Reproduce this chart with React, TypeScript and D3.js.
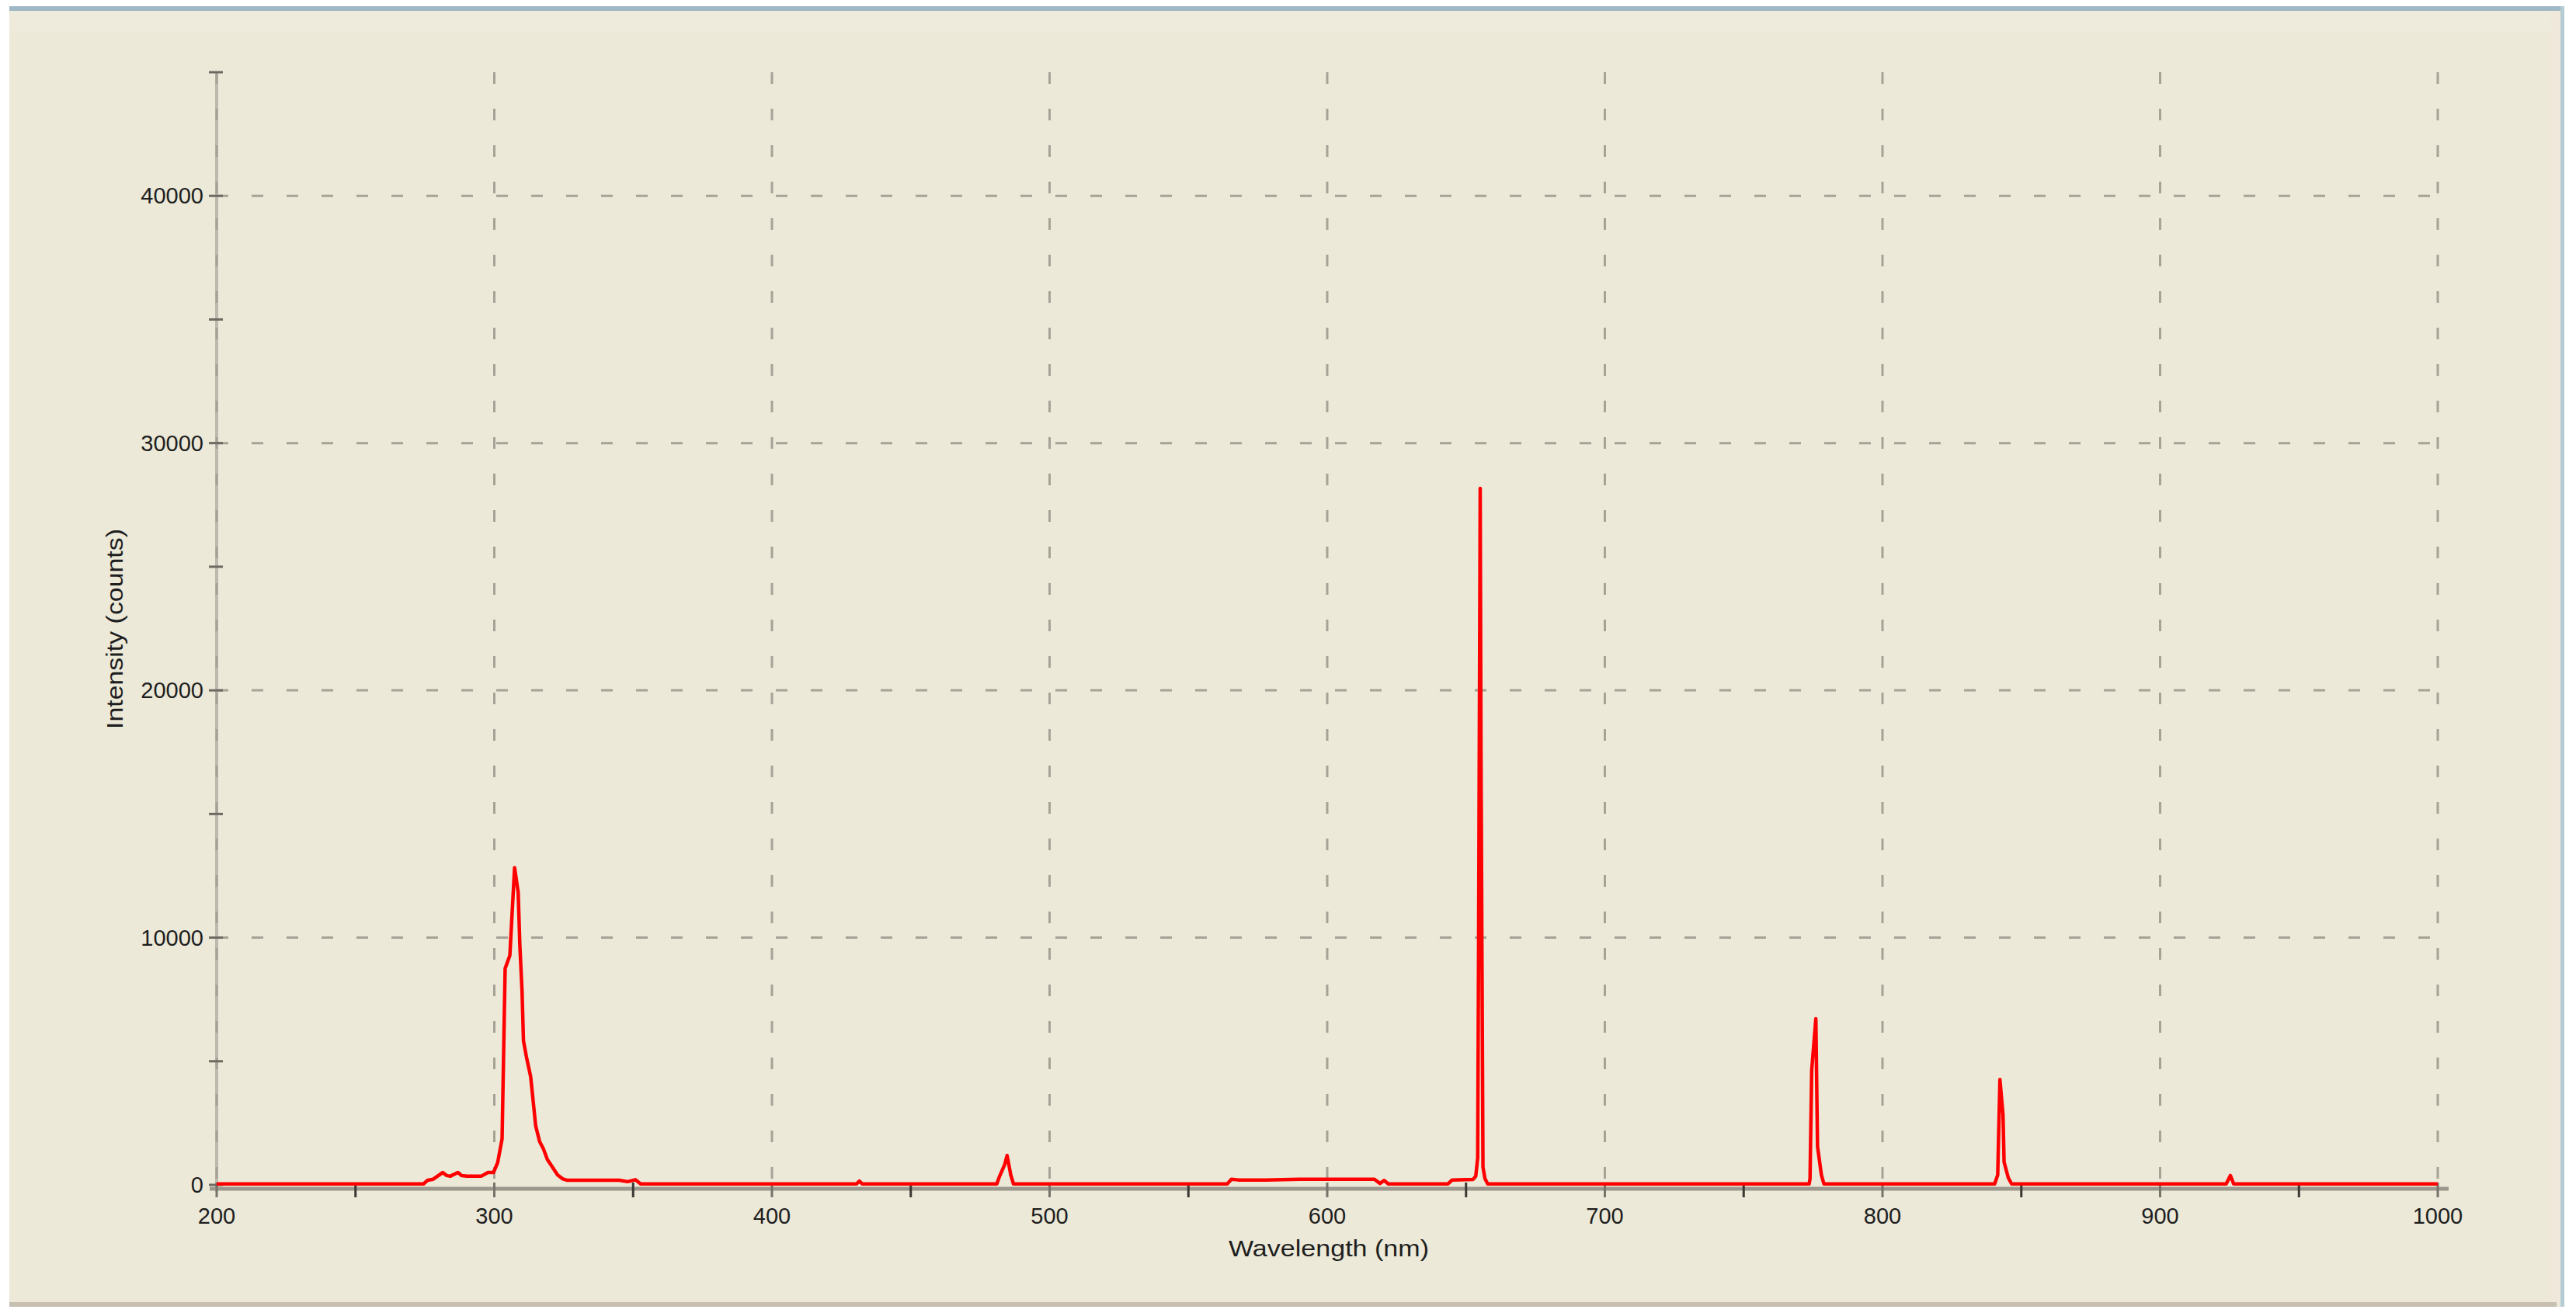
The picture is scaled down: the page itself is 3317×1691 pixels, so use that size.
import React, { useEffect, useRef } from 'react';
import * as d3 from 'd3';

// spectrum (nm, counts)
const wavelengths = [
  200, 274.5, 276, 278, 279.5, 281.4, 282.8, 284.1, 286.9, 288.2, 290.2, 295.3, 297.7, 299.7,
  301.2, 302.8, 303.9, 305.6, 307.3, 308.6, 309.2, 310.0, 310.5, 311.7, 313.1, 314.9, 316.3,
  317.7, 319.1, 321.0, 322.8, 324.7, 326.1, 345.0, 348.0, 350.8, 352.7,
  430.5, 431.5, 432.5,
  481.0, 482.0, 483.8, 484.7, 486.0, 487.0,
  564.0, 565.5, 568.0, 578.0, 590.0, 605.0, 617.0, 619.0, 620.5, 622.0,
  643.5, 645.0, 652.5, 653.5, 654.2, 654.5, 655.1, 655.4, 656.1, 656.8, 657.8,
  773.6, 773.9, 774.5, 776.0, 776.6, 778.0, 778.9,
  840.4, 841.5, 842.3, 843.4, 843.8, 845.3, 846.5,
  923.8, 925.3, 926.5, 1000,
];
const counts = [
  40, 40, 190, 230, 350, 500, 380, 350, 500, 380, 350, 350, 500, 500,
  900, 1860, 8750, 9280, 12830, 11830, 9690, 7810, 5830, 5100, 4370, 2390, 1760,
  1450, 1030, 710, 400, 240, 190, 190, 130, 210, 40,
  40, 150, 40,
  40, 350, 810, 1190, 410, 40,
  40, 230, 200, 200, 230, 230, 230, 60, 180, 40,
  40, 200, 220, 350, 1100, 9100, 28170, 17250, 720, 260, 40,
  40, 260, 4630, 6720, 1550, 400, 40,
  40, 400, 4260, 2850, 920, 290, 40,
  40, 380, 40, 40,
];

const xTicks = [200, 300, 400, 500, 600, 700, 800, 900, 1000];
const yTicks = [0, 10000, 20000, 30000, 40000];
const xTitle = 'Wavelength (nm)';
const yTitle = 'Intensity (counts)';

const W = 3317;
const H = 1691;
const font = '"Liberation Sans", Arial, sans-serif';

const App = () => {
  const chartRef = useRef<SVGSVGElement>(null);

  useEffect(() => {
    const svg = d3.select(chartRef.current);
    svg.selectAll('*').remove();

    const x = d3.scaleLinear().domain([200, 1000]).range([279, 3139]);
    const y = d3.scaleLinear().domain([0, 45000]).range([1526, 93]);
    const axisY = y(0) + 5;

    // window panel
    svg.append('rect').attr('x', 12).attr('y', 8).attr('width', 3290).attr('height', 1675).attr('fill', '#ECE9D8');
    svg.append('rect').attr('x', 12).attr('y', 14).attr('width', 3285).attr('height', 26).attr('fill', '#EEEADC');
    svg.append('rect').attr('x', 12).attr('y', 8).attr('width', 3290).attr('height', 6).attr('fill', '#A0B8C6');
    svg.append('rect').attr('x', 3284).attr('y', 14).attr('width', 13).attr('height', 1663).attr('fill', '#F0E8DA');
    svg.append('rect').attr('x', 3297).attr('y', 8).attr('width', 5).attr('height', 1675).attr('fill', '#B5CDD2');
    svg.append('rect').attr('x', 12).attr('y', 1677).attr('width', 3280).attr('height', 6).attr('fill', '#C6BFB2');

    // y axis line
    svg.append('line')
      .attr('x1', x(200)).attr('x2', x(200))
      .attr('y1', y(45000)).attr('y2', axisY + 4)
      .attr('stroke', '#BDB9AE').attr('stroke-width', 4);

    // grid
    svg.append('g').selectAll('line')
      .data(xTicks)
      .enter()
      .append('line')
      .attr('x1', (d) => x(d)).attr('x2', (d) => x(d))
      .attr('y1', y(45000)).attr('y2', axisY)
      .attr('stroke', '#A6A296').attr('stroke-width', 3)
      .attr('stroke-dasharray', '15 32');

    svg.append('g').selectAll('line')
      .data(yTicks.slice(1))
      .enter()
      .append('line')
      .attr('x1', x(200)).attr('x2', x(1000) + 8)
      .attr('y1', (d) => y(d)).attr('y2', (d) => y(d))
      .attr('stroke', '#A6A296').attr('stroke-width', 3)
      .attr('stroke-dasharray', '15 30');

    // x axis line
    svg.append('line')
      .attr('x1', x(200) - 9).attr('x2', x(1000) + 14)
      .attr('y1', axisY).attr('y2', axisY)
      .attr('stroke', '#9C988E').attr('stroke-width', 5);

    // ticks
    svg.append('g').selectAll('line')
      .data(d3.range(200, 1001, 50))
      .enter()
      .append('line')
      .attr('x1', (d) => x(d)).attr('x2', (d) => x(d))
      .attr('y1', axisY - 8).attr('y2', axisY + 11)
      .attr('stroke', (d) => (d % 100 === 0 ? '#77736B' : '#3A3833'))
      .attr('stroke-width', 3);

    svg.append('g').selectAll('line')
      .data(d3.range(0, 45001, 5000))
      .enter()
      .append('line')
      .attr('x1', x(200) - 10).attr('x2', x(200) + 8)
      .attr('y1', (d) => y(d)).attr('y2', (d) => y(d))
      .attr('stroke', '#6E6A62')
      .attr('stroke-width', 3);

    // tick labels
    svg.append('g').selectAll('text')
      .data(xTicks)
      .enter()
      .append('text')
      .attr('x', (d) => x(d))
      .attr('y', 1576)
      .attr('text-anchor', 'middle')
      .attr('font-family', font)
      .attr('font-size', 29)
      .attr('fill', '#1E1E1E')
      .text((d) => `${d}`);

    svg.append('g').selectAll('text')
      .data(yTicks)
      .enter()
      .append('text')
      .attr('x', 262)
      .attr('y', (d) => y(d) + 10)
      .attr('text-anchor', 'end')
      .attr('font-family', font)
      .attr('font-size', 29)
      .attr('fill', '#1E1E1E')
      .text((d) => `${d}`);

    // axis titles
    svg.append('text')
      .attr('x', 1711)
      .attr('y', 1618)
      .attr('text-anchor', 'middle')
      .attr('font-family', font)
      .attr('font-size', 29)
      .attr('textLength', 258)
      .attr('lengthAdjust', 'spacingAndGlyphs')
      .attr('fill', '#1E1E1E')
      .text(xTitle);

    svg.append('text')
      .attr('transform', 'translate(158,810) rotate(-90)')
      .attr('text-anchor', 'middle')
      .attr('font-family', font)
      .attr('font-size', 29)
      .attr('textLength', 258)
      .attr('lengthAdjust', 'spacingAndGlyphs')
      .attr('fill', '#1E1E1E')
      .text(yTitle);

    // spectrum
    const pts: [number, number][] = wavelengths.map((w, i) => [w, counts[i]]);
    const line = d3.line<[number, number]>()
      .x((d) => x(d[0]))
      .y((d) => y(d[1]));

    svg.append('path')
      .datum(pts)
      .attr('d', line)
      .attr('fill', 'none')
      .attr('stroke', '#FF0000')
      .attr('stroke-width', 4.5)
      .attr('stroke-linejoin', 'round');
  }, []);

  return (
    <svg
      ref={chartRef}
      width={W}
      height={H}
      style={{ position: 'absolute', left: 0, top: 0, background: '#ffffff' }}
    />
  );
};

export default App;
